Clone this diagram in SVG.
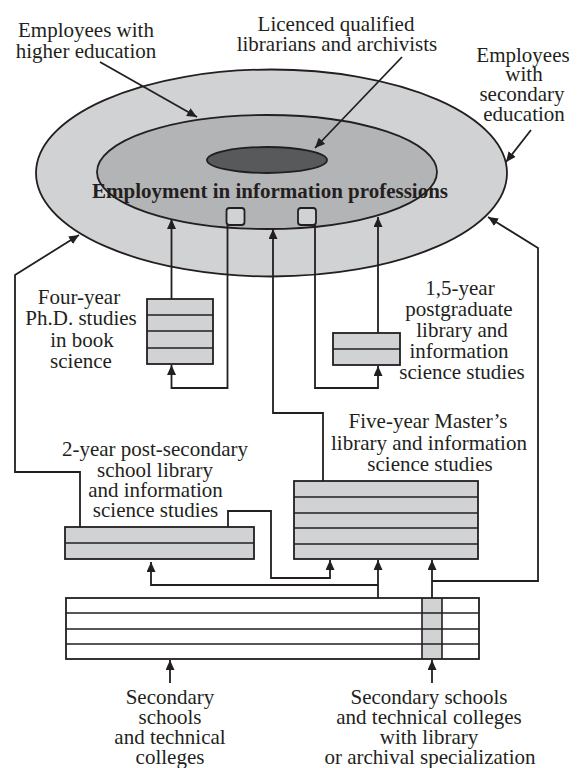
<svg xmlns="http://www.w3.org/2000/svg" width="580" height="768" viewBox="0 0 580 768">
  <defs>
    <marker id="arrow" markerUnits="userSpaceOnUse" markerWidth="10" markerHeight="9" refX="10" refY="4.5" orient="auto">
      <path d="M0,0 L10,4.5 L0,9 Z" fill="#231f20"/>
    </marker>
    <style>
      .lbl { font-family: "Liberation Serif", "Times New Roman", serif; font-size: 21px; fill: #231f20; text-anchor: middle; }
      .title { font-family: "Liberation Serif", "Times New Roman", serif; font-size: 21px; font-weight: bold; fill: #231f20; text-anchor: middle; }
      .ring { stroke: #231f20; stroke-width: 1.8; }
      .box { fill: #d1d2d4; stroke: #231f20; stroke-width: 1.8; }
      .row { stroke: #231f20; stroke-width: 1.6; fill: none; }
      .wire { fill: none; stroke: #231f20; stroke-width: 1.8; }
      .wire.arr { marker-end: url(#arrow); }
    </style>
  </defs>

  <rect width="580" height="768" fill="#ffffff"/>

  <!-- employment field: nested ellipses -->
  <g id="employment">
    <ellipse class="ring" cx="271.5" cy="173" rx="235.5" ry="103.5" fill="#d1d2d4"/>
    <ellipse class="ring" cx="267" cy="172" rx="170" ry="57" fill="#b3b4b6"/>
    <ellipse class="ring" cx="267" cy="160" rx="60" ry="13" fill="#58595b"/>
    <rect class="box" x="226.5" y="208" width="18" height="17" rx="3"/>
    <rect class="box" x="298" y="208" width="18" height="17" rx="3"/>
    <text class="title" x="270" y="198">Employment in information professions</text>
  </g>

  <!-- annotations -->
  <g id="label-higher">
    <text class="lbl" x="86" y="37">Employees with</text>
    <text class="lbl" x="86" y="58">higher education</text>
  </g>
  <g id="label-licenced">
    <text class="lbl" x="336" y="30.5">Licenced qualified</text>
    <text class="lbl" x="337" y="51">librarians and archivists</text>
  </g>
  <g id="label-secondary">
    <text class="lbl" x="523" y="62">Employees</text>
    <text class="lbl" x="524" y="81">with</text>
    <text class="lbl" x="522" y="101">secondary</text>
    <text class="lbl" x="524" y="121">education</text>
  </g>

  <!-- study programmes -->
  <g id="phd">
    <rect class="box" x="147" y="299" width="66" height="65"/>
    <path class="row" d="M147,315H213M147,331H213M147,348H213"/>
    <text class="lbl" x="79" y="304">Four-year</text>
    <text class="lbl" x="81" y="325">Ph.D. studies</text>
    <text class="lbl" x="82" y="347">in book</text>
    <text class="lbl" x="81" y="368">science</text>
  </g>
  <g id="postgraduate">
    <rect class="box" x="333" y="333" width="67" height="32"/>
    <path class="row" d="M333,349H400"/>
    <text class="lbl" x="460" y="295">1,5-year</text>
    <text class="lbl" x="459" y="316">postgraduate</text>
    <text class="lbl" x="462" y="337">library and</text>
    <text class="lbl" x="459" y="358">information</text>
    <text class="lbl" x="462" y="379">science studies</text>
  </g>
  <g id="master">
    <rect class="box" x="294" y="481" width="184" height="78"/>
    <path class="row" d="M294,497H478M294,513H478M294,528H478M294,544H478"/>
    <text class="lbl" x="428" y="428">Five-year Master’s</text>
    <text class="lbl" x="429" y="449.5">library and information</text>
    <text class="lbl" x="430" y="471">science studies</text>
  </g>
  <g id="post-secondary">
    <rect class="box" x="65" y="527" width="189" height="32"/>
    <path class="row" d="M65,543H254"/>
    <text class="lbl" x="155" y="456">2-year post-secondary</text>
    <text class="lbl" x="155" y="477">school library</text>
    <text class="lbl" x="155.5" y="497">and information</text>
    <text class="lbl" x="155.5" y="517">science studies</text>
  </g>
  <g id="secondary-schools">
    <rect x="66" y="598" width="413" height="61" fill="#ffffff"/>
    <rect x="422" y="598" width="20" height="61" fill="#d1d2d4"/>
    <path class="row" d="M66,613H479M66,629H479M66,644H479M422,598V659M442,598V659"/>
    <rect x="66" y="598" width="413" height="61" fill="none" stroke="#231f20" stroke-width="1.8"/>
    <text class="lbl" x="170" y="704">Secondary</text>
    <text class="lbl" x="170" y="724">schools</text>
    <text class="lbl" x="170" y="744">and technical</text>
    <text class="lbl" x="170" y="764">colleges</text>
    <text class="lbl" x="429" y="704">Secondary schools</text>
    <text class="lbl" x="429" y="724">and technical colleges</text>
    <text class="lbl" x="429" y="744">with library</text>
    <text class="lbl" x="430" y="764">or archival specialization</text>
  </g>

  <!-- connectors -->
  <g id="connectors">
    <path class="wire arr" d="M100,62L197,117"/>
    <path class="wire arr" d="M402,57L315,148"/>
    <path class="wire arr" d="M531,130L506,162"/>

    <path class="wire arr" d="M171.5,299V219"/>
    <path class="wire arr" d="M227.5,225V388H171.5V365"/>
    <path class="wire arr" d="M323,481V413H273V229"/>
    <path class="wire arr" d="M315,225V388H378V366"/>
    <path class="wire arr" d="M378,333V217"/>
    <path class="wire arr" d="M80,527V472H15V275L79,235"/>
    <path class="wire arr" d="M228,527V511H271V578H330V560"/>
    <path class="wire arr" d="M378,598V560"/>
    <path class="wire arr" d="M378,585H151V562"/>
    <path class="wire arr" d="M432,598V560"/>
    <path class="wire arr" d="M432,581H538V248L488,217"/>

    <path class="wire arr" d="M170,683V660"/>
    <path class="wire arr" d="M432,683V660"/>
  </g>
</svg>
